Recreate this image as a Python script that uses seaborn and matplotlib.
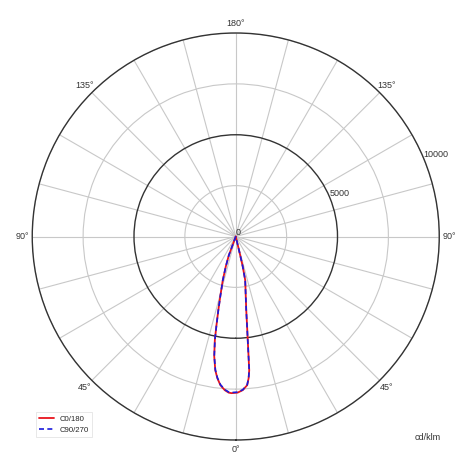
import numpy as np
import pandas as pd
import matplotlib
matplotlib.use("Agg")
import matplotlib.pyplot as plt
import seaborn as sns

# Data (gamma angle in degrees; negative = left half, positive = right half)
gamma = [-90, -23, -20.2, -18.4, -16.5, -14.5, -13.3, -12.2, -11.4, -10.2, -8.7, -7.4,
         -5.9, -4.1, -2.6, -1.6, 0.7, 2.6, 4.4, 5.2, 5.75, 6.1, 6.6, 7.2, 8.1, 9.5,
         12.2, 13.1, 13.3, 14.5, 90]
c0_180 = [0, 0, 993, 1550, 2250, 3037, 3728, 4515, 5201, 5976, 6646, 7020,
          7343, 7568, 7680, 7700, 7672, 7557, 7325, 6990, 6603, 5916, 5132, 4446, 3663, 2982,
          2206, 1510, 956, 0, 0]
c90_270 = [0, 0, 980, 1535, 2235, 3020, 3710, 4500, 5190, 5960, 6630, 7000,
           7320, 7540, 7650, 7670, 7650, 7540, 7310, 6980, 6590, 5900, 5120, 4430, 3650, 2970,
           2190, 1500, 950, 0, 0]
series_names = ["C0/180", "C90/270"]
r_ticks = [0, 2500, 5000, 7500, 10000]
r_labels = ["0", "", "5000", "", "10000"]
theta_ticks = list(range(0, 360, 15))
theta_label_map = {0: "0°", 45: "45°", 90: "90°", 135: "135°", 180: "180°",
                   225: "135°", 270: "90°", 315: "45°"}
unit_label = "cd/klm"

df = pd.DataFrame({
    "theta": np.radians(gamma * 2),
    "value": c0_180 + c90_270,
    "series": [series_names[0]] * len(gamma) + [series_names[1]] * len(gamma),
})

sns.set_style("white")
plt.rcParams["font.family"] = ["Liberation Sans", "DejaVu Sans"]

fig = plt.figure(figsize=(4.7, 4.7), dpi=100)
ax = fig.add_axes([0.0686, 0.0638, 0.866, 0.866], projection="polar")
ax.set_theta_zero_location("S")
ax.set_theta_direction(1)

sns.lineplot(data=df[df.series == series_names[0]], x="theta", y="value", sort=False,
             color="#e8141c", linewidth=1.3, ax=ax, label=series_names[0])
sns.lineplot(data=df[df.series == series_names[1]], x="theta", y="value", sort=False,
             color="#1a1adc", linewidth=1.2, ax=ax, label=series_names[1])
ax.lines[1].set_dashes((3, 2))

ax.set_ylim(0, 10000)
ax.set_yticks(r_ticks)
ax.set_yticklabels(r_labels, fontsize=6.5, color="#333333")
ax.set_rlabel_position(112.5)
ax.set_thetagrids(theta_ticks, [theta_label_map.get(t, "") for t in theta_ticks],
                  fontsize=6.5, color="#333333")
ax.tick_params(axis="x", pad=-3.5)
ax.set_xlabel("")
ax.set_ylabel("")
ax.grid(True, color="#c8c8c8", linewidth=0.8)
for val, gl in zip(r_ticks, ax.yaxis.get_gridlines()):
    if val == 5000:
        gl.set_color("#333333")
        gl.set_linewidth(1.0)
ax.spines["polar"].set_color("#333333")
ax.spines["polar"].set_linewidth(1.0)

leg = ax.legend(loc="lower left", bbox_to_anchor=(0.076, 0.070), bbox_transform=fig.transFigure,
                fontsize=5.6, frameon=True, handlelength=1.9, borderpad=0.45,
                labelspacing=0.45, fancybox=False, borderaxespad=0, handletextpad=0.7)
leg.get_frame().set_edgecolor("#dddddd")
leg.get_frame().set_linewidth(0.6)

fig.text(0.91, 0.07, unit_label, fontsize=6.5, color="#333333", ha="center", va="center")

fig.savefig("out.png", dpi=100, facecolor="white")
